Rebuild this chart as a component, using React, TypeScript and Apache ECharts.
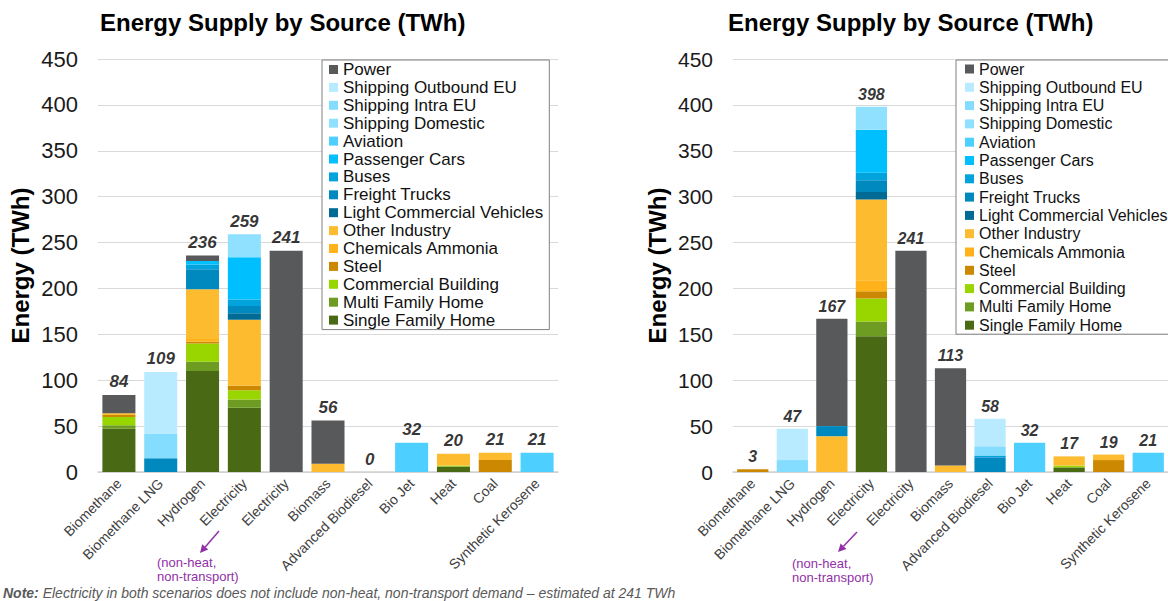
import React, { useEffect, useRef } from "react";
import * as echarts from "echarts";

const categories = ["Biomethane", "Biomethane LNG", "Hydrogen", "Electricity", "Electricity", "Biomass", "Advanced Biodiesel", "Bio Jet", "Heat", "Coal", "Synthetic Kerosene"];

const seriesNames = ["Power", "Shipping Outbound EU", "Shipping Intra EU", "Shipping Domestic", "Aviation", "Passenger Cars", "Buses", "Freight Trucks", "Light Commercial Vehicles", "Other Industry", "Chemicals Ammonia", "Steel", "Commercial Building", "Multi Family Home", "Single Family Home"];
const seriesColors = ["#58595B", "#B8EBFF", "#84DDFF", "#90E1FF", "#4DCFFF", "#00BFFF", "#00A3DC", "#0089BF", "#006B94", "#FDBB30", "#FFB21A", "#CC8800", "#99D600", "#6E9C22", "#4A6914"];

// Left scenario
const leftPower = [20, 0, 6, 0, 241, 47, 0, 0, 0, 0, 0];
const leftShippingOutbound = [0, 67, 0, 0, 0, 0, 0, 0, 0, 0, 0];
const leftShippingIntra = [0, 27, 0, 0, 0, 0, 0, 0, 0, 0, 0];
const leftShippingDomestic = [0, 0, 0, 25, 0, 0, 0, 0, 0, 0, 0];
const leftAviation = [0, 0, 0, 0, 0, 0, 0, 32, 0, 0, 21];
const leftPassengerCars = [0, 0, 4, 46, 0, 0, 0, 0, 0, 0, 0];
const leftBuses = [0, 0, 5, 7, 0, 0, 0, 0, 0, 0, 0];
const leftFreightTrucks = [0, 15, 22, 8, 0, 0, 0, 0, 0, 0, 0];
const leftLCV = [0, 0, 0, 7, 0, 0, 0, 0, 0, 0, 0];
const leftOtherIndustry = [2, 0, 54, 72, 0, 9, 0, 0, 13, 8, 0];
const leftChemicals = [0, 0, 3, 0, 0, 0, 0, 0, 0, 0, 0];
const leftSteel = [2, 0, 2, 5, 0, 0, 0, 0, 0, 13, 0];
const leftCommercial = [9, 0, 20, 10, 0, 0, 0, 0, 1, 0, 0];
const leftMultiFamily = [4, 0, 10, 9, 0, 0, 0, 0, 0, 0, 0];
const leftSingleFamily = [47, 0, 110, 70, 0, 0, 0, 0, 6, 0, 0];

// Right scenario
const rightPower = [0, 0, 117, 0, 241, 106, 0, 0, 0, 0, 0];
const rightShippingOutbound = [0, 34, 0, 0, 0, 0, 30, 0, 0, 0, 0];
const rightShippingIntra = [0, 13, 0, 0, 0, 0, 10, 0, 0, 0, 0];
const rightShippingDomestic = [0, 0, 0, 25, 0, 0, 0, 0, 0, 0, 0];
const rightAviation = [0, 0, 0, 0, 0, 0, 0, 32, 0, 0, 21];
const rightPassengerCars = [0, 0, 0, 47, 0, 0, 0, 0, 0, 0, 0];
const rightBuses = [0, 0, 0, 8, 0, 0, 2, 0, 0, 0, 0];
const rightFreightTrucks = [0, 0, 11, 13, 0, 0, 16, 0, 0, 0, 0];
const rightLCV = [0, 0, 0, 8, 0, 0, 0, 0, 0, 0, 0];
const rightOtherIndustry = [0, 0, 39, 88, 0, 7, 0, 0, 10, 6, 0];
const rightChemicals = [0, 0, 0, 12, 0, 0, 0, 0, 0, 0, 0];
const rightSteel = [3, 0, 0, 8, 0, 0, 0, 0, 0, 13, 0];
const rightCommercial = [0, 0, 0, 25, 0, 0, 0, 0, 2, 0, 0];
const rightMultiFamily = [0, 0, 0, 16, 0, 0, 0, 0, 0, 0, 0];
const rightSingleFamily = [0, 0, 0, 148, 0, 0, 0, 0, 5, 0, 0];

const yTicks = { min: 0, max: 450, interval: 50 };

const leftData = [leftPower, leftShippingOutbound, leftShippingIntra, leftShippingDomestic, leftAviation, leftPassengerCars, leftBuses, leftFreightTrucks, leftLCV, leftOtherIndustry, leftChemicals, leftSteel, leftCommercial, leftMultiFamily, leftSingleFamily];
const rightData = [rightPower, rightShippingOutbound, rightShippingIntra, rightShippingDomestic, rightAviation, rightPassengerCars, rightBuses, rightFreightTrucks, rightLCV, rightOtherIndustry, rightChemicals, rightSteel, rightCommercial, rightMultiFamily, rightSingleFamily];

const FONT = "'Liberation Sans', Arial, sans-serif";
const PURPLE = "#9130A8";

function totals(data: number[][]) {
  return categories.map((_, i) => data.reduce((s, arr) => s + arr[i], 0));
}

function arrow(x1: number, y1: number, x2: number, y2: number) {
  const dx = x2 - x1, dy = y2 - y1;
  const len = Math.sqrt(dx * dx + dy * dy);
  const ux = dx / len, uy = dy / len;
  const px = -uy, py = ux;
  const head = 8, half = 4;
  const bx = x2 - ux * head, by = y2 - uy * head;
  return [
    { type: "line", shape: { x1, y1, x2: bx, y2: by }, style: { stroke: PURPLE, lineWidth: 1.5 } },
    { type: "polygon", shape: { points: [[x2, y2], [bx + px * half, by + py * half], [bx - px * half, by - py * half]] }, style: { fill: PURPLE } },
  ];
}

export default function App() {
  const ref = useRef<HTMLDivElement>(null);
  useEffect(() => {
    if (!ref.current) return;
    const chart = echarts.init(ref.current, undefined, { renderer: "svg" });
    const keys = categories.map((_, i) => String(i));

    const grids = [
      { left: 98, right: 610, top: 59, bottom: 129 },
      { left: 733, right: -8, top: 59, bottom: 129 },
    ];
    const tickFont = [22, 21];
    const xAxes = grids.map((_, gi) => ({
      type: "category",
      gridIndex: gi,
      data: keys,
      axisTick: { show: false },
      axisLine: { lineStyle: { color: "#D0D0D0", width: 1.5 } },
      axisLabel: {
        rotate: 45,
        margin: 9,
        fontSize: 14,
        color: "#404040",
        fontFamily: FONT,
        interval: 0,
        formatter: (_v: string, idx: number) => categories[idx],
      },
    }));
    const yAxes = grids.map((_, gi) => ({
      type: "value",
      gridIndex: gi,
      ...yTicks,
      name: "Energy (TWh)",
      nameLocation: "middle",
      nameGap: gi === 0 ? 66 : 64,
      nameTextStyle: { fontSize: 24, fontWeight: "bold", color: "#000", fontFamily: FONT },
      axisLine: { show: false },
      axisTick: { show: false },
      splitLine: { lineStyle: { color: "#D9D9D9", width: 1.2 } },
      axisLabel: { fontSize: tickFont[gi], color: "#1a1a1a", margin: 20, fontFamily: FONT },
    }));

    const series: any[] = [];
    [leftData, rightData].forEach((data, gi) => {
      for (let k = seriesNames.length - 1; k >= 0; k--) {
        series.push({
          type: "bar",
          name: seriesNames[k],
          stack: "s" + gi,
          xAxisIndex: gi,
          yAxisIndex: gi,
          data: data[k],
          barCategoryGap: "21%",
          itemStyle: { color: seriesColors[k] },
          emphasis: { disabled: true },
        });
      }
      series.push({
        type: "scatter",
        name: "Total" + gi,
        xAxisIndex: gi,
        yAxisIndex: gi,
        data: totals(data),
        symbolSize: 1,
        itemStyle: { color: "rgba(0,0,0,0)" },
        silent: true,
        label: {
          show: true,
          position: "top",
          distance: 4,
          formatter: "{c}",
          fontSize: gi === 0 ? 17 : 16,
          fontWeight: "bold",
          fontStyle: "italic",
          color: "#000",
          fontFamily: FONT,
        },
      });
    });

    const legendBase = {
      data: seriesNames,
      orient: "vertical",
      top: 60,
      icon: "rect",
      itemWidth: 9,
      itemHeight: 9,
      selectedMode: false,
      borderColor: "#808080",
      borderWidth: 1,
      borderRadius: 0,
      backgroundColor: "#fff",
    };

    const graphic: any[] = [
      { type: "text", left: 157, top: 555, style: { text: "(non-heat,\nnon-transport)", fill: PURPLE, fontSize: 13, lineHeight: 14, fontFamily: FONT } },
      { type: "text", left: 792, top: 556, style: { text: "(non-heat,\nnon-transport)", fill: PURPLE, fontSize: 13, lineHeight: 14, fontFamily: FONT } },
      ...arrow(219, 531, 200, 553),
      ...arrow(857, 532, 838, 552),
      {
        type: "text",
        left: 3,
        top: 586,
        style: {
          text: "{b|Note:} Electricity in both scenarios does not include non-heat, non-transport demand – estimated at 241 TWh",
          fill: "#595959",
          fontSize: 14,
          fontStyle: "italic",
          fontFamily: FONT,
          rich: { b: { fontWeight: "bold", fontStyle: "italic", fill: "#595959", fontSize: 14, fontFamily: FONT } },
        },
      },
    ];

    chart.setOption({
      animation: false,
      textStyle: { fontFamily: FONT },
      title: [
        { text: "Energy Supply by Source (TWh)", left: 100, top: 10, padding: 0, textStyle: { fontSize: 24, fontWeight: "bold", color: "#000", fontFamily: FONT } },
        { text: "Energy Supply by Source (TWh)", left: 728, top: 10, padding: 0, textStyle: { fontSize: 24, fontWeight: "bold", color: "#000", fontFamily: FONT } },
      ],
      legend: [
        { ...legendBase, left: 322, itemGap: 0.9, padding: [1, 6, 1, 7], textStyle: { fontSize: 17, lineHeight: 16, color: "#111", fontFamily: FONT } },
        { ...legendBase, left: 956, itemGap: 2.3, padding: [1, 6, 1, 9], textStyle: { fontSize: 16, lineHeight: 16, color: "#111", fontFamily: FONT } },
      ],
      grid: grids,
      xAxis: xAxes,
      yAxis: yAxes,
      series,
      graphic,
    });
    return () => chart.dispose();
  }, []);
  return <div ref={ref} style={{ position: "absolute", left: 0, top: 0, width: 1168, height: 601, background: "#fff" }} />;
}
